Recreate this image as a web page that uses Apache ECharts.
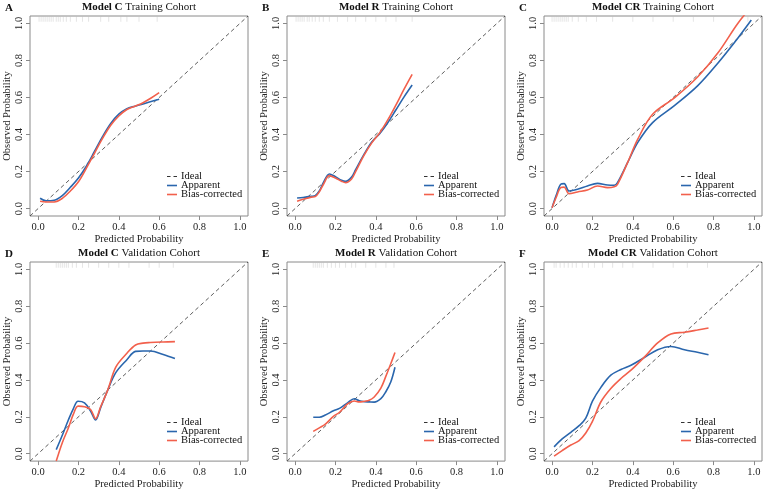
<!DOCTYPE html>
<html>
<head>
<meta charset="utf-8">
<script src="https://cdn.jsdelivr.net/npm/echarts@6/dist/echarts.min.js"></script>
<style>
  html, body { margin: 0; background: #fff; }
  #chart { width: 767px; height: 491px; }
</style>
</head>
<body>
<div id="chart"></div>
<script>
// calibration curves
const predA = [0.01, 0.04, 0.08, 0.12, 0.16, 0.2, 0.24, 0.28, 0.32, 0.36, 0.4, 0.44, 0.48, 0.52, 0.56, 0.6];
const apparentA = [0.056, 0.042, 0.045, 0.07, 0.115, 0.165, 0.23, 0.31, 0.39, 0.46, 0.51, 0.54, 0.553, 0.565, 0.578, 0.59];
const biasA = [0.04, 0.036, 0.036, 0.055, 0.095, 0.145, 0.22, 0.3, 0.38, 0.45, 0.5, 0.535, 0.553, 0.572, 0.597, 0.626];

const predB = [0.01, 0.04, 0.08, 0.1, 0.12, 0.14, 0.17, 0.2, 0.23, 0.25, 0.28, 0.3, 0.34, 0.38, 0.42, 0.46, 0.5, 0.54, 0.58];
const apparentB = [0.057, 0.06, 0.066, 0.07, 0.095, 0.14, 0.187, 0.172, 0.153, 0.147, 0.17, 0.21, 0.29, 0.36, 0.406, 0.465, 0.534, 0.603, 0.667];
const biasB = [0.04, 0.05, 0.062, 0.065, 0.09, 0.13, 0.178, 0.165, 0.148, 0.14, 0.16, 0.2, 0.285, 0.355, 0.41, 0.48, 0.56, 0.645, 0.725];

const predC = [0.0, 0.02, 0.043, 0.06, 0.084, 0.126, 0.175, 0.225, 0.275, 0.308, 0.324, 0.374, 0.424, 0.498, 0.606, 0.722, 0.821, 0.92, 0.987];
const apparentC = [0.005, 0.07, 0.131, 0.135, 0.095, 0.104, 0.122, 0.136, 0.127, 0.126, 0.14, 0.248, 0.356, 0.464, 0.556, 0.664, 0.785, 0.92, 1.018];
const biasC = [0.005, 0.06, 0.113, 0.116, 0.08, 0.09, 0.1, 0.122, 0.113, 0.118, 0.131, 0.248, 0.374, 0.509, 0.598, 0.712, 0.84, 1.0, 1.09];

const predD = [0.09, 0.12, 0.15, 0.175, 0.198, 0.23, 0.26, 0.285, 0.31, 0.345, 0.385, 0.44, 0.483, 0.52, 0.556, 0.62, 0.678];
const apparentD = [0.022, 0.1, 0.183, 0.245, 0.285, 0.276, 0.232, 0.183, 0.25, 0.345, 0.44, 0.51, 0.555, 0.557, 0.557, 0.538, 0.516];
const biasD = [-0.04, 0.06, 0.14, 0.215, 0.258, 0.255, 0.24, 0.19, 0.255, 0.345, 0.47, 0.545, 0.59, 0.6, 0.603, 0.606, 0.608];

const predE = [0.09, 0.12, 0.15, 0.19, 0.22, 0.26, 0.293, 0.318, 0.345, 0.367, 0.392, 0.425, 0.449, 0.474, 0.495];
const apparentE = [0.198, 0.198, 0.21, 0.233, 0.246, 0.276, 0.298, 0.287, 0.282, 0.281, 0.28, 0.299, 0.335, 0.389, 0.469];
const biasE = [0.121, 0.14, 0.16, 0.203, 0.225, 0.27, 0.286, 0.281, 0.285, 0.29, 0.308, 0.356, 0.418, 0.488, 0.549];

const predF = [0.01, 0.05, 0.093, 0.134, 0.167, 0.2, 0.242, 0.291, 0.341, 0.391, 0.457, 0.523, 0.589, 0.656, 0.72, 0.775];
const apparentF = [0.037, 0.08, 0.116, 0.152, 0.193, 0.285, 0.36, 0.426, 0.457, 0.48, 0.522, 0.564, 0.582, 0.564, 0.55, 0.537];
const biasF = [-0.013, 0.017, 0.047, 0.071, 0.112, 0.175, 0.282, 0.354, 0.408, 0.453, 0.524, 0.601, 0.65, 0.659, 0.671, 0.682];

// rug of predicted values along the top edge
const rugA = [0.005, 0.015, 0.025, 0.035, 0.045, 0.055, 0.065, 0.075, 0.09, 0.1, 0.11, 0.125, 0.14, 0.16, 0.19, 0.22, 0.25, 0.31, 0.35, 0.41, 0.44, 0.5, 0.59];
const rugB = [0.005, 0.015, 0.025, 0.035, 0.045, 0.06, 0.07, 0.085, 0.1, 0.12, 0.14, 0.17, 0.21, 0.26, 0.3, 0.35, 0.4, 0.45, 0.5, 0.58];
const rugC = [0.0, 0.01, 0.02, 0.03, 0.04, 0.05, 0.06, 0.07, 0.08, 0.1, 0.13, 0.17, 0.22, 0.3, 0.4, 0.5, 0.6, 0.7, 0.8, 0.97];
const rugD = [0.09, 0.1, 0.11, 0.12, 0.13, 0.14, 0.15, 0.17, 0.19, 0.22, 0.25, 0.3, 0.35, 0.4, 0.45, 0.55, 0.6, 0.67];
const rugE = [0.09, 0.1, 0.11, 0.12, 0.13, 0.14, 0.16, 0.18, 0.2, 0.22, 0.25, 0.28, 0.3, 0.35, 0.4, 0.45, 0.49];
const rugF = [0.01, 0.02, 0.04, 0.06, 0.08, 0.1, 0.12, 0.15, 0.18, 0.21, 0.25, 0.3, 0.35, 0.4, 0.5, 0.6, 0.67, 0.77];

const ticks = [0, 0.2, 0.4, 0.6, 0.8, 1];

const panels = [
  { letter: "A", model: "Model C", cohort: "Training Cohort", pred: predA, app: apparentA, bias: biasA, rug: rugA },
  { letter: "B", model: "Model R", cohort: "Training Cohort", pred: predB, app: apparentB, bias: biasB, rug: rugB },
  { letter: "C", model: "Model CR", cohort: "Training Cohort", pred: predC, app: apparentC, bias: biasC, rug: rugC },
  { letter: "D", model: "Model C", cohort: "Validation Cohort", pred: predD, app: apparentD, bias: biasD, rug: rugD },
  { letter: "E", model: "Model R", cohort: "Validation Cohort", pred: predE, app: apparentE, bias: biasE, rug: rugE },
  { letter: "F", model: "Model CR", cohort: "Validation Cohort", pred: predF, app: apparentF, bias: biasF, rug: rugF },
];

const FONT = "Liberation Serif";
const BLUE = "#2a66ad";
const RED = "#f2604c";
const DASH_ICON = "path://M0,0H3.5V1.2H0Z M6.5,0H10V1.2H6.5Z";
const LINE_ICON = "path://M0,0H10V1.6H0Z";
const colLeft = [30, 287, 544];
const rowTop = [16, 262];
const W = 218, H = 200;

const grids = [], xAxes = [], yAxes = [], series = [], titles = [], legends = [];

panels.forEach((p, i) => {
  const left = colLeft[i % 3];
  const top = rowTop[Math.floor(i / 3)];

  grids.push({ left, top, width: W, height: H, show: true, borderColor: "#8a8a8a", borderWidth: 1 });

  const axisCommon = {
    type: "value",
    gridIndex: i,
    min: -0.04,
    max: 1.04,
    axisLine: { show: false, onZero: false },
    splitLine: { show: false },
    axisTick: { show: true, length: 4, customValues: ticks, lineStyle: { color: "#8a8a8a" } },
    nameLocation: "middle",
    nameTextStyle: { fontFamily: FONT, fontSize: 10.5, color: "#222" },
  };
  xAxes.push({
    ...axisCommon,
    name: "Predicted Probability",
    nameGap: 16,
    axisLabel: { customValues: ticks, formatter: (v) => v.toFixed(1), fontFamily: FONT, fontSize: 10.5, color: "#222", margin: 6 },
  });
  yAxes.push({
    ...axisCommon,
    name: "Observed Probability",
    nameGap: 17,
    nameRotate: 90,
    axisLabel: { customValues: ticks, formatter: (v) => v.toFixed(1), rotate: 90, fontFamily: FONT, fontSize: 10.5, color: "#222", margin: 5 },
  });

  titles.push({
    text: "{b|" + p.model + "} " + p.cohort,
    left: left + W / 2,
    top: top - 14,
    textAlign: "center",
    padding: 0,
    textStyle: {
      fontFamily: FONT, fontSize: 11, fontWeight: "normal", color: "#111",
      rich: { b: { fontFamily: FONT, fontSize: 11, fontWeight: "bold", color: "#111" } },
    },
  });
  titles.push({
    text: p.letter,
    left: left - 25,
    top: top - 13,
    padding: 0,
    textStyle: { fontFamily: FONT, fontSize: 11, fontWeight: "bold", color: "#111" },
  });

  legends.push({
    data: [
      { name: "Ideal", icon: DASH_ICON, itemStyle: { color: "#333" } },
      { name: "Apparent", icon: LINE_ICON },
      { name: "Bias-corrected", icon: LINE_ICON },
    ],
    orient: "vertical",
    left: left + 137,
    top: top + 155,
    padding: 0,
    itemGap: -2,
    itemWidth: 10,
    itemHeight: 8,
    selectedMode: false,
    textStyle: { fontFamily: FONT, fontSize: 10.5, color: "#111", padding: [0, 0, 0, -1] },
  });

  series.push({
    name: "Ideal",
    type: "line",
    xAxisIndex: i,
    yAxisIndex: i,
    data: [[-0.04, -0.04], [1.04, 1.04]],
    symbol: "none",
    silent: true,
    lineStyle: { color: "#333", width: 0.8, type: [4, 3] },
    itemStyle: { color: "#333" },
    z: 2,
  });
  series.push({
    name: "Apparent",
    type: "line",
    xAxisIndex: i,
    yAxisIndex: i,
    data: p.pred.map((x, k) => [x, p.app[k]]),
    smooth: 0.35,
    symbol: "none",
    lineStyle: { color: BLUE, width: 1.6 },
    itemStyle: { color: BLUE },
    z: 3,
  });
  series.push({
    name: "Bias-corrected",
    type: "line",
    xAxisIndex: i,
    yAxisIndex: i,
    data: p.pred.map((x, k) => [x, p.bias[k]]),
    smooth: 0.35,
    symbol: "none",
    lineStyle: { color: RED, width: 1.6 },
    itemStyle: { color: RED },
    z: 4,
  });
  series.push({
    name: "rug",
    type: "scatter",
    xAxisIndex: i,
    yAxisIndex: i,
    data: p.rug.map((x) => [x, 1.022]),
    symbol: "rect",
    symbolSize: [1, 5],
    silent: true,
    itemStyle: { color: "#aaa", opacity: 0.3 },
    z: 1,
  });
});

const chart = echarts.init(document.getElementById("chart"), null, { renderer: "canvas" });
chart.setOption({
  animation: false,
  backgroundColor: "#fff",
  title: titles,
  legend: legends,
  grid: grids,
  xAxis: xAxes,
  yAxis: yAxes,
  series,
});
</script>
</body>
</html>
